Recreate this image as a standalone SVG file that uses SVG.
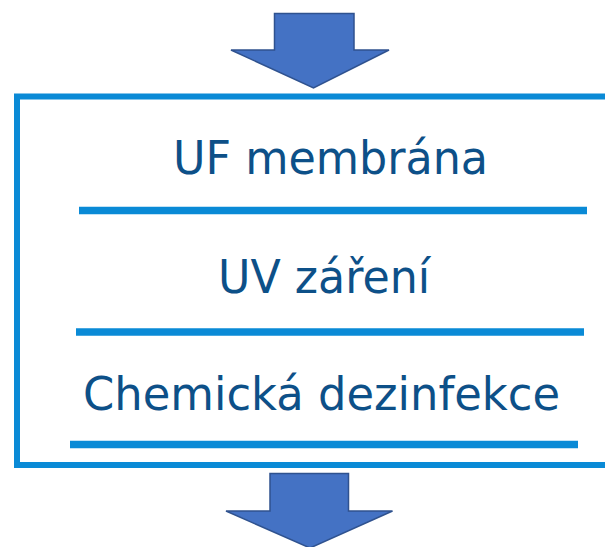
<svg xmlns="http://www.w3.org/2000/svg" width="605" height="547" viewBox="0 0 605 547">
<style>
.arrow{fill:#4472C4;stroke:#2F528F;stroke-width:1.5;stroke-linejoin:miter}
.frame{fill:none;stroke:#0A8AD6;stroke-width:6}
.sep{stroke:#0A8AD6;stroke-width:7.5}
.lbl{font-family:"DejaVu Sans",Verdana,sans-serif;font-size:46px;fill:#0D5088}
</style>
<rect width="605" height="547" fill="#ffffff"/>
<g id="frame">
<path class="frame" d="M620,96.5 H17 V465 H620"/>
</g>
<g id="connectors">
<polygon class="arrow" points="274.5,13.5 354,13.5 354,50 389,50 313.5,88 231,50 274.5,50"/>
<polygon class="arrow" points="270,473.5 348.5,473.5 348.5,511 392.5,511 310,548 226,511 270,511"/>
</g>
<g id="node-uf">
<text class="lbl" x="173" y="174" textLength="315" lengthAdjust="spacingAndGlyphs">UF membrána</text>
<line class="sep" x1="79" y1="210.5" x2="587" y2="210.5"/>
</g>
<g id="node-uv">
<text class="lbl" x="218" y="293" textLength="212" lengthAdjust="spacingAndGlyphs">UV záření</text>
<line class="sep" x1="76" y1="332" x2="584" y2="332"/>
</g>
<g id="node-chem">
<text class="lbl" x="83" y="410" textLength="477" lengthAdjust="spacingAndGlyphs">Chemická dezinfekce</text>
<line class="sep" x1="70" y1="444.5" x2="578" y2="444.5"/>
</g>
</svg>
